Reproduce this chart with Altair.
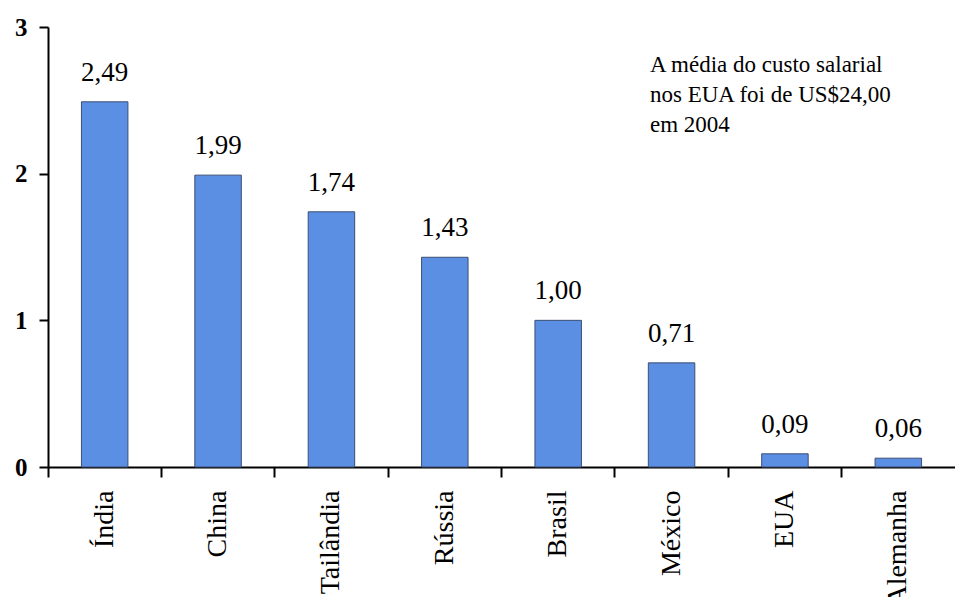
import altair as alt
import pandas as pd

paises = ["Índia", "China", "Tailândia", "Rússia", "Brasil", "México", "EUA", "Alemanha"]
valores = [2.49, 1.99, 1.74, 1.43, 1.00, 0.71, 0.09, 0.06]
nota = ["A média do custo salarial", "nos EUA foi de US$24,00", "em 2004"]

df = pd.DataFrame({"pais": paises, "valor": valores})

W = 907
H = 440
FONT = "'Liberation Serif', 'Times New Roman', 'DejaVu Serif', serif"

x = alt.X(
    "pais:N",
    sort=paises,
    title=None,
    scale=alt.Scale(paddingInner=0, paddingOuter=0),
    axis=alt.Axis(
        bandPosition=0,
        labelAngle=-90,
        labelAlign="right",
        labelBaseline="middle",
        labelFont=FONT,
        labelFontSize=28,
        labelColor="black",
        labelPadding=13,
        tickSize=10,
        tickWidth=2,
        tickColor="black",
        domainColor="black",
        domainWidth=2,
    ),
)
y = alt.Y(
    "valor:Q",
    title=None,
    scale=alt.Scale(domain=[0, 3]),
    axis=alt.Axis(
        values=[0, 1, 2, 3],
        format="d",
        grid=False,
        labelFont=FONT,
        labelFontSize=25,
        labelFontWeight="bold",
        labelColor="black",
        labelPadding=12,
        tickSize=9,
        tickWidth=2,
        tickColor="black",
        domainColor="black",
        domainWidth=2,
    ),
)

base = alt.Chart(df)

bars = base.mark_bar(
    width=alt.RelativeBandSize(0.41),
    color="#5a8fe4",
    stroke="#3c4e72",
    strokeWidth=1,
).encode(x=x, y=y)

labels = base.transform_calculate(
    rotulo="replace(format(datum.valor, '.2f'), '.', ',')"
).mark_text(
    font=FONT, fontSize=27, color="black", baseline="alphabetic", dy=-21
).encode(x=x, y=y, text="rotulo:N")

ann = alt.Chart(pd.DataFrame({"t": ["\n".join(nota)]})).mark_text(
    font=FONT, fontSize=23, color="black", align="left", baseline="alphabetic",
    lineBreak="\n", lineHeight=30,
).encode(x=alt.value(602), y=alt.value(45), text="t:N")

chart = alt.layer(bars, labels, ann).properties(
    width=W,
    height=H,
    autosize=alt.AutoSizeParams(type="none"),
    padding={"left": 40, "top": 19, "right": 0, "bottom": 130},
).configure_view(stroke=None)

chart.save("out.html", embed_options={"renderer": "svg", "actions": False})
